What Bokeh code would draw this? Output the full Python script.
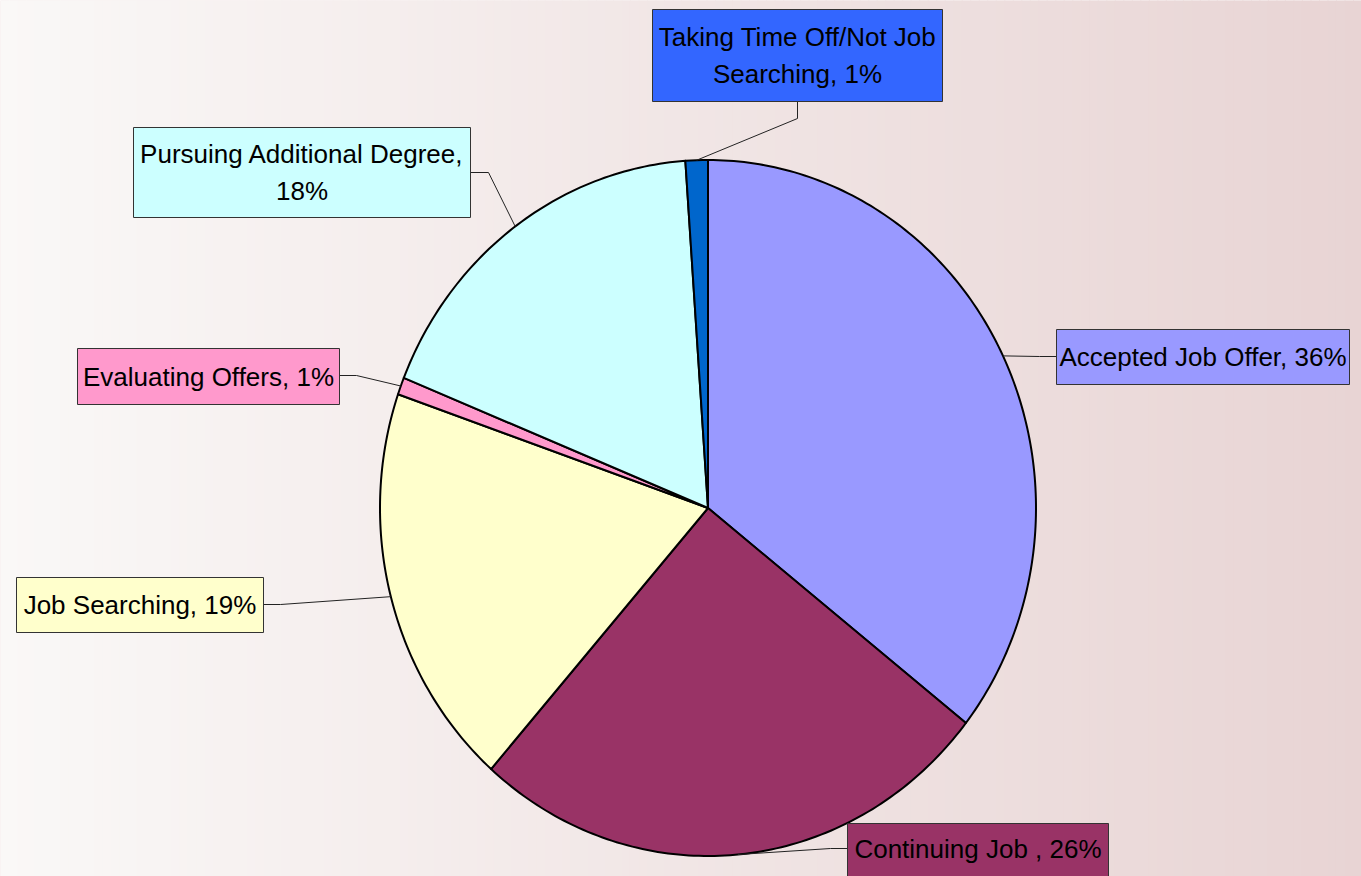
import numpy as np
from bokeh.plotting import figure
from bokeh.models import Range1d
from bokeh.core.properties import value
from bokeh.embed import file_html
from bokeh.resources import INLINE

# ---- data ----
categories = ["Accepted Job Offer", "Continuing Job ", "Job Searching", "Evaluating Offers",
              "Pursuing Additional Degree", "Taking Time Off/Not Job Searching"]
shares = [35.6, 25.9, 18.8, 0.8, 17.8, 1.1]
slice_colors = ["#9999ff", "#993366", "#ffffcc", "#ff99cc", "#ccffff", "#0066cc"]
box_colors = ["#9999ff", "#993366", "#ffffcc", "#ff99cc", "#ccffff", "#3366ff"]

# ---- layout (page-pixel coordinates, y downward) ----
W, H = 1361, 876
CX, CY, RX, RY = 707.5, 507.5, 328, 348
# label boxes: left, top, right, bottom
boxes = [(1056, 329, 1349, 384), (847, 823, 1108, 878), (16, 577, 263, 632),
         (77, 348, 339, 404), (133, 127, 470, 217), (652, 9, 942, 101)]
line_breaks = [None, None, None, None, "Pursuing Additional Degree,", "Taking Time Off/Not Job"]
leaders = [((1056, 356), (1039, 356)), ((847, 848), (830, 848)), ((263, 604), (280, 604)),
           ((339, 375), (356, 375)), ((470, 172), (488, 172)), ((797, 101), (797, 118))]

p = figure(width=W, height=H, x_range=Range1d(0, W), y_range=Range1d(H, 0),
           output_backend="svg", toolbar_location=None, min_border=0)
p.axis.visible = False
p.grid.visible = False
p.outline_line_color = None
p.background_fill_color = "#f1e6e6"
p.border_fill_color = "#f1e6e6"

# background gradient
n = 160
xs = np.linspace(0, W, n + 1)
c0 = np.array([250, 248, 247])
c1 = np.array([232, 212, 212])
cols = []
for i in range(n):
    t = (i + 0.5) / n
    c = (c0 * (1 - t) + c1 * t).round().astype(int)
    cols.append("#%02x%02x%02x" % tuple(c))
p.quad(left=xs[:-1], right=xs[1:] + 1, top=-10, bottom=H + 10, fill_color=cols, line_color=None)

# pie slices
total = sum(shares)
fr = np.array(shares) / total
cum = np.concatenate([[0], np.cumsum(fr)])
px, py = [], []
mids = []
for i in range(len(shares)):
    a0, a1 = cum[i] * 2 * np.pi, cum[i + 1] * 2 * np.pi
    k = max(4, int(np.ceil((a1 - a0) / (2 * np.pi) * 400)))
    th = np.linspace(a0, a1, k)
    px.append(np.concatenate([[CX], CX + RX * np.sin(th)]).tolist())
    py.append(np.concatenate([[CY], CY - RY * np.cos(th)]).tolist())
    m = (a0 + a1) / 2
    mids.append((CX + RX * np.sin(m), CY - RY * np.cos(m)))
p.patches(xs=px, ys=py, fill_color=slice_colors, line_color="black", line_width=2,
          line_join="round")

# leaders
lx, ly = [], []
for (s, e), m in zip(leaders, mids):
    lx.append([s[0], e[0], m[0]])
    ly.append([s[1], e[1], m[1]])
p.multi_line(xs=lx, ys=ly, line_color="#222222", line_width=1)

# label boxes + text
p.quad(left=[b[0] for b in boxes], right=[b[2] for b in boxes],
       top=[b[1] for b in boxes], bottom=[b[3] for b in boxes],
       fill_color=box_colors, line_color="#333333", line_width=1)

tx, ty, tt = [], [], []
for i, (name, b) in enumerate(zip(categories, boxes)):
    pct = int(round(fr[i] * 100))
    label = f"{name}, {pct}%"
    cx = (b[0] + b[2]) / 2
    if line_breaks[i] is None:
        lines = [label]
    else:
        first = line_breaks[i]
        rest = label[len(first):].strip()
        lines = [first, rest]
    cy = 848 if i == 1 else (b[1] + b[3]) / 2
    nl = len(lines)
    for j, ln in enumerate(lines):
        tx.append(cx)
        ty.append(cy + (j - (nl - 1) / 2) * 37)
        tt.append(ln)
p.text(x=tx, y=ty, text=tt, text_align="center", text_baseline="middle",
       text_font=value("Liberation Sans"), text_font_size="26px", text_color="black")

open("out.html", "w").write(file_html(p, INLINE))
